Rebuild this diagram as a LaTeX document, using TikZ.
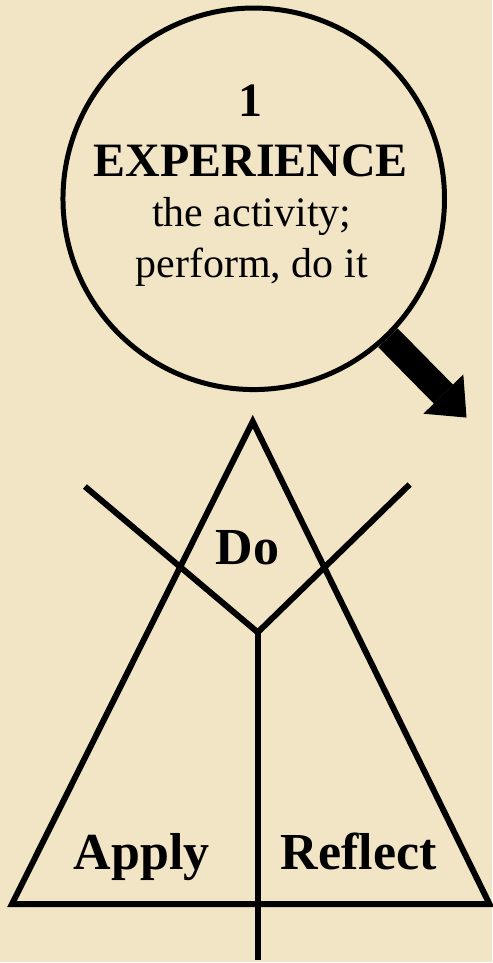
\documentclass[tikz,border=0pt]{standalone}
\usepackage{fontspec}
\setmainfont{Liberation Serif}
\usetikzlibrary{arrows.meta}
\definecolor{parch}{RGB}{241,229,197}

\begin{document}
\begin{tikzpicture}[x=0.02cm,y=-0.02cm,
        line/.style={line width=0.12cm},
        big/.style={font=\fontsize{27.3}{32}\selectfont\bfseries,anchor=base,inner sep=0pt},
        small/.style={font=\fontsize{23.9}{28}\selectfont,anchor=base,inner sep=0pt},
        lbl/.style={font=\fontsize{29.6}{34}\selectfont\bfseries,anchor=base,inner sep=0pt}]
        \fill[parch] (0,0) rectangle (493,963);
        \coordinate (t) at (253,422);
        \coordinate (t1) at (12,905);
        \coordinate (t2) at (490,905);
        \coordinate (v) at (258,633);
        \coordinate (v1) at (85,487);
        \coordinate (v2) at (410,485);
        \coordinate (v3) at (258,961);
        \coordinate (p) at (467,418);
        \node[circle,draw,line width=0.1cm,minimum size=7.64cm,inner sep=0pt] (exp) at (254,199) {};
        \node[big] (num) at (251,117) {1};
        \node[big] (head) at (251,177) {EXPERIENCE};
        \node[small] (txt1) at (252,227) {the activity;};
        \node[small] (txt2) at (252,278) {perform, do it};
        \draw[line width=0.54cm,-{Triangle[length=0.66cm,width=1.12cm,line width=0pt]}] (exp.-46) -- (p);
        \draw[line] (t1) -- (t) -- (t2) -- cycle;
        \draw[line] (v1) -- (v) -- (v2);
        \draw[line] (v) -- (v3);
        \node[lbl] (do) at (248,565) {Do};
        \node[lbl] (apply) at (142,870) {Apply};
        \node[lbl] (refl) at (359,870) {Reflect};
\end{tikzpicture}
\end{document}
